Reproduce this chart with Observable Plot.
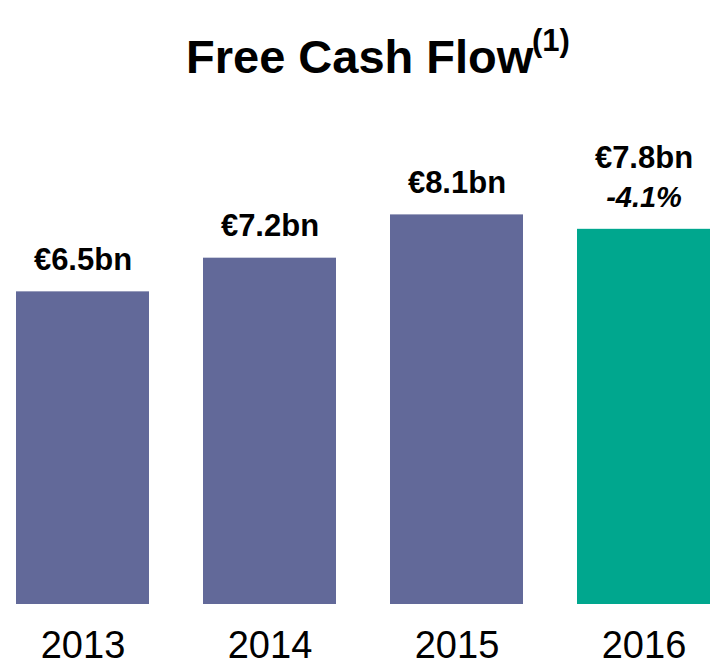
<!DOCTYPE html>
<html>
<head>
<meta charset="utf-8">
<script src="https://cdn.jsdelivr.net/npm/d3@7"></script>
<script src="https://cdn.jsdelivr.net/npm/@observablehq/plot@0.6"></script>
<style>
  html, body { margin: 0; padding: 0; background: #fff; }
  body { width: 716px; height: 665px; overflow: hidden; font-family: "Liberation Sans", Arial, sans-serif; }
  #title { position: relative; height: 90px; }
  #title .main { position: absolute; left: 186px; top: 57px; font-size: 47px; font-weight: bold; color: #000; line-height: 0; white-space: nowrap; }
  #title .sup { position: absolute; left: 532px; top: 41px; font-size: 31px; font-weight: bold; color: #000; line-height: 0; white-space: nowrap; }
</style>
</head>
<body>
<div id="title"><span class="main">Free Cash Flow</span><span class="sup">(1)</span></div>
<div id="chart"></div>
<script>
const years = ["2013", "2014", "2015", "2016"];
const values = [6.5, 7.2, 8.1, 7.8];
const valueLabels = ["€6.5bn", "€7.2bn", "€8.1bn", "€7.8bn"];
const changeLabels = ["", "", "", "-4.1%"];

const data = years.map((year, i) => ({
  year,
  value: values[i],
  label: valueLabels[i],
  change: changeLabels[i],
  kind: i === years.length - 1 ? "latest" : "prior"
}));

const font = "'Liberation Sans', Arial, sans-serif";

const plot = Plot.plot({
  width: 716,
  height: 575,
  marginLeft: 16,
  marginRight: 6,
  marginTop: 33,
  marginBottom: 61,
  style: { fontFamily: font, fontSize: "38px", color: "#000", background: "#fff", overflow: "visible" },
  x: { domain: years, paddingInner: 0.289, paddingOuter: 0, label: null },
  y: { domain: [0, 10], axis: null },
  color: { domain: ["prior", "latest"], range: ["#626999", "#00a78e"] },
  marks: [
    Plot.barY(data, { x: "year", y: "value", fill: "kind" }),
    Plot.axisX({ tickSize: 0, tickPadding: 27, fontSize: 38, fontFamily: font, label: null }),
    Plot.text(data.filter(d => !d.change), {
      x: "year", y: "value", text: "label",
      lineAnchor: "bottom", dy: -22,
      fontSize: 31, fontWeight: "bold", fontFamily: font, fill: "#000"
    }),
    Plot.text(data.filter(d => d.change), {
      x: "year", y: "value", text: "label",
      lineAnchor: "bottom", dy: -61,
      fontSize: 31, fontWeight: "bold", fontFamily: font, fill: "#000"
    }),
    Plot.text(data.filter(d => d.change), {
      x: "year", y: "value", text: "change",
      lineAnchor: "bottom", dy: -22,
      fontSize: 29, fontWeight: "bold", fontStyle: "italic", fontFamily: font, fill: "#000"
    })
  ]
});
document.getElementById("chart").appendChild(plot);
</script>
</body>
</html>
